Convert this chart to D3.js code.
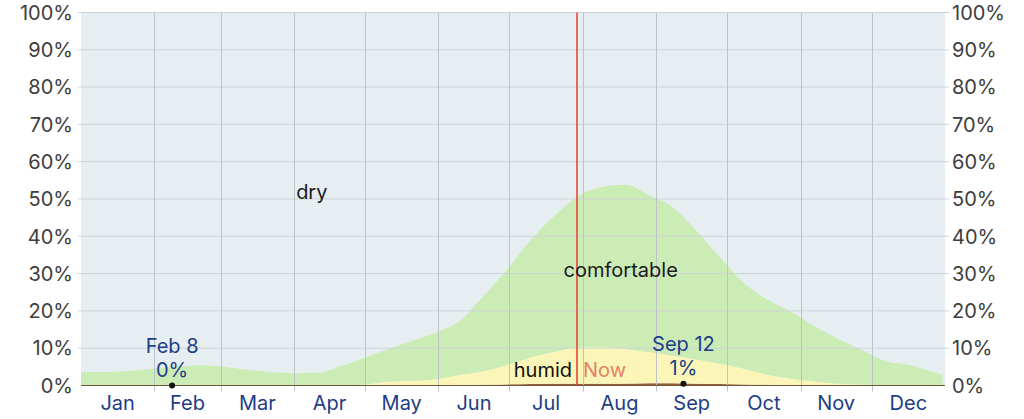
<!DOCTYPE html>
<html>
<head>
<meta charset="utf-8">
<script src="https://cdn.jsdelivr.net/npm/d3@7"></script>
<style>
  body { margin: 0; background: #fff; }
  svg { display: block; }
</style>
</head>
<body>
<div id="chart"></div>
<script>
// day of year for each sample
var days = [0, 10, 20, 30, 40, 50, 60, 70, 80, 90, 100, 110, 120, 130, 140, 150, 160, 170, 180,
            190, 200, 210, 220, 230, 240, 250, 260, 270, 280, 290, 300, 310, 320, 330, 340, 350, 360, 364];

// percent of time in each humidity band
var muggy = [0, 0, 0, 0, 0, 0, 0, 0, 0, 0, 0, 0, 0, 0, 0, 0, 0.1, 0.2, 0.3,
             0.4, 0.5, 0.5, 0.5, 0.5, 0.6, 0.6, 0.5, 0.4, 0.3, 0.2, 0.1, 0, 0, 0, 0, 0, 0, 0];
var humid = [0, 0, 0, 0, 0, 0, 0, 0, 0, 0, 0, 0, 0.3, 1.0, 1.3, 1.7, 2.7, 3.6, 5.2,
             7.1, 8.5, 9.7, 9.8, 9.3, 8.4, 7.4, 6.5, 5.4, 4.2, 2.7, 1.7, 1.1, 0.5, 0.3, 0.1, 0, 0, 0];
var comfortable = [3.6, 3.6, 3.9, 4.5, 5.0, 5.4, 5.0, 4.2, 3.6, 3.3, 3.4, 5.2, 7.2, 8.8, 10.7, 12.5, 14.5, 20.2, 25.5,
                   31.5, 36.5, 40.6, 42.9, 44.0, 42.0, 39.8, 34.5, 28.6, 23.0, 20.1, 18.0, 14.7, 12.0, 9.2, 6.4, 5.5, 3.6, 2.9];

var months = ["Jan", "Feb", "Mar", "Apr", "May", "Jun", "Jul", "Aug", "Sep", "Oct", "Nov", "Dec"];
var monthStarts = [0, 31, 59, 90, 120, 151, 181, 212, 243, 273, 304, 334, 365];
var yTicks = [0, 10, 20, 30, 40, 50, 60, 70, 80, 90, 100];

var nowDay = 209.7;
var notes = [
  {day: 38.5, value: 0, title: "Feb 8", pct: "0%"},
  {day: 254.5, value: 0.5, title: "Sep 12", pct: "1%"}
];

var W = 1024, H = 419;
var font = "Inter, 'Liberation Sans', Arial, sans-serif";
var fs = 20;

var svg = d3.select("#chart").append("svg")
  .attr("width", W)
  .attr("height", H)
  .style("font-family", font);

var x = d3.scaleLinear().domain([0, 365]).range([81, 945]);
var y = d3.scaleLinear().domain([0, 100]).range([385.5, 12.5]);

//Background (dry)
svg.append("rect")
  .attr("x", x(0)).attr("y", y(100))
  .attr("width", x(365) - x(0)).attr("height", y(0) - y(100))
  .attr("fill", "#e6eef2");

//Stacked bands
var table = days.map((d, i) => ({day: d, muggy: muggy[i], humid: humid[i], comfortable: comfortable[i]}));
var stack = d3.stack().keys(["muggy", "humid", "comfortable"])(table);
var colors = {muggy: "#9a5a34", humid: "#fbf6b7", comfortable: "#ccecb6"};

var area = d3.area()
  .x(d => x(d.data.day))
  .y0(d => y(d[0]))
  .y1(d => y(d[1]))
  .curve(d3.curveMonotoneX);

svg.selectAll(".band")
  .data(stack)
  .enter()
  .append("path")
  .attr("class", "band")
  .attr("d", area)
  .attr("fill", d => colors[d.key]);

//Horizontal grid
svg.selectAll(".hgrid")
  .data(yTicks.filter(t => t > 0))
  .enter()
  .append("line")
  .attr("x1", x(0) - 3).attr("x2", x(365) + 4)
  .attr("y1", d => y(d)).attr("y2", d => y(d))
  .attr("stroke", "#cdd5d9")
  .attr("stroke-width", 1);

//Vertical grid at month boundaries
svg.selectAll(".vgrid")
  .data(monthStarts.slice(1, 12))
  .enter()
  .append("line")
  .attr("x1", d => Math.round(x(d)) + 0.5).attr("x2", d => Math.round(x(d)) + 0.5)
  .attr("y1", y(100)).attr("y2", y(0) + 6)
  .attr("stroke", "#bcc4c8")
  .attr("stroke-width", 1);

//Baseline
svg.append("line")
  .attr("x1", x(0)).attr("x2", x(365))
  .attr("y1", y(0)).attr("y2", y(0))
  .attr("stroke", "#6b5a3a")
  .attr("stroke-width", 1.2);

//Now line
var nx = Math.round(x(nowDay));
svg.append("line")
  .attr("x1", nx).attr("x2", nx)
  .attr("y1", y(100)).attr("y2", y(0))
  .attr("stroke", "#e5483a")
  .attr("stroke-width", 1.6);

//Y axis labels, both sides
svg.selectAll(".yl")
  .data(yTicks)
  .enter()
  .append("text")
  .attr("x", x(0) - 8)
  .attr("y", d => y(d))
  .attr("dy", "0.36em")
  .attr("text-anchor", "end")
  .attr("font-size", fs)
  .attr("fill", "#3d3d3d")
  .text(d => d + "%");

svg.selectAll(".yr")
  .data(yTicks)
  .enter()
  .append("text")
  .attr("x", x(365) + 7)
  .attr("y", d => y(d))
  .attr("dy", "0.36em")
  .attr("text-anchor", "start")
  .attr("font-size", fs)
  .attr("fill", "#3d3d3d")
  .text(d => d + "%");

//Month labels
svg.selectAll(".ml")
  .data(months)
  .enter()
  .append("text")
  .attr("x", (d, i) => x((monthStarts[i] + monthStarts[i + 1]) / 2))
  .attr("y", 410)
  .attr("text-anchor", "middle")
  .attr("font-size", fs)
  .attr("fill", "#1d3d85")
  .text(d => d);

//Band labels
svg.append("text")
  .attr("x", x(97.5)).attr("y", y(50))
  .attr("text-anchor", "middle").attr("font-size", fs).attr("fill", "#1a1a1a")
  .text("dry");
svg.append("text")
  .attr("x", x(228)).attr("y", y(29))
  .attr("text-anchor", "middle").attr("font-size", fs).attr("fill", "#1a1a1a")
  .text("comfortable");
svg.append("text")
  .attr("x", nx - 5).attr("y", y(2.3))
  .attr("text-anchor", "end").attr("font-size", fs).attr("fill", "#111")
  .text("humid");
svg.append("text")
  .attr("x", nx + 6).attr("y", y(2.3))
  .attr("text-anchor", "start").attr("font-size", fs).attr("fill", "#e5806a")
  .text("Now");

//Min / max annotations
var ann = svg.selectAll(".ann")
  .data(notes)
  .enter()
  .append("g");

ann.append("circle")
  .attr("cx", d => x(d.day)).attr("cy", d => y(d.value))
  .attr("r", 3)
  .attr("fill", "#111");

ann.append("text")
  .attr("x", d => x(d.day)).attr("y", d => y(d.value) - 33)
  .attr("text-anchor", "middle").attr("font-size", fs).attr("fill", "#1d3d85")
  .text(d => d.title);

ann.append("text")
  .attr("x", d => x(d.day)).attr("y", d => y(d.value) - 9)
  .attr("text-anchor", "middle").attr("font-size", fs).attr("fill", "#1d3d85")
  .text(d => d.pct);
</script>
</body>
</html>
